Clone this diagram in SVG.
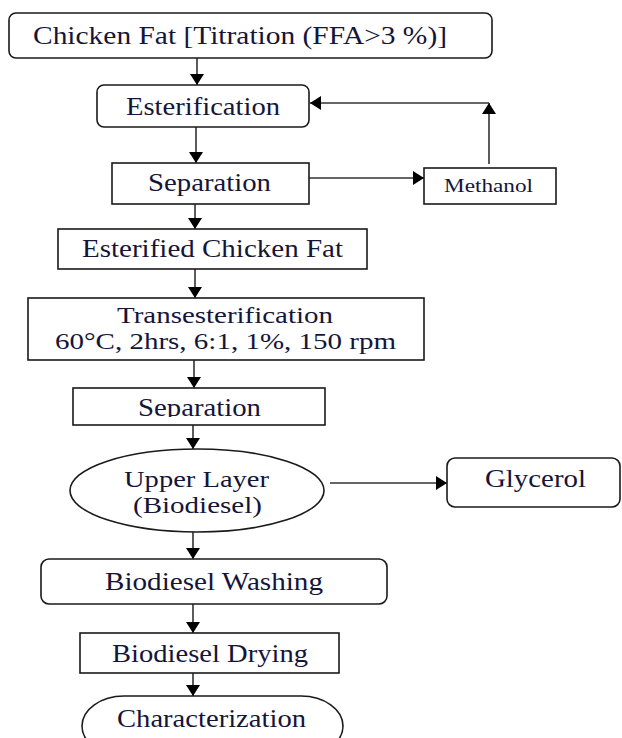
<svg xmlns="http://www.w3.org/2000/svg" width="622" height="738" viewBox="0 0 622 738">
<style>
.n{fill:#fff;stroke:#1a1a1a;stroke-width:1.6}
.t{font-family:"Liberation Serif","Times New Roman",serif;font-size:25px;fill:#15153a;text-anchor:middle}
.s{font-size:19.5px}
.d{font-size:22.5px}
.c{fill:none;stroke:#333;stroke-width:1.6}
</style>
<defs>
<marker id="ah" viewBox="0 0 11 14" refX="11" refY="7" markerWidth="11" markerHeight="14" markerUnits="userSpaceOnUse" orient="auto">
<path d="M0,0 L11,7 L0,14 z" fill="#000"/>
</marker>
<clipPath id="cut"><rect x="70" y="388" width="260" height="29"/></clipPath>
</defs>
<rect width="622" height="738" fill="#fff"/>
<g id="connectors">
<line class="c" x1="197" y1="58" x2="197" y2="85" marker-end="url(#ah)"/>
<line class="c" x1="489" y1="164" x2="489" y2="103" marker-end="url(#ah)"/>
<line class="c" x1="489" y1="103" x2="310" y2="103" marker-end="url(#ah)"/>
<line class="c" x1="196" y1="127" x2="196" y2="163" marker-end="url(#ah)"/>
<line class="c" x1="309" y1="178" x2="424" y2="178" marker-end="url(#ah)"/>
<line class="c" x1="195" y1="204" x2="195" y2="229" marker-end="url(#ah)"/>
<line class="c" x1="195" y1="269" x2="195" y2="298" marker-end="url(#ah)"/>
<line class="c" x1="194" y1="360" x2="194" y2="388" marker-end="url(#ah)"/>
<line class="c" x1="193" y1="425" x2="193" y2="449" marker-end="url(#ah)"/>
<line class="c" x1="330" y1="483" x2="447" y2="483" marker-end="url(#ah)"/>
<line class="c" x1="193" y1="532" x2="193" y2="559" marker-end="url(#ah)"/>
<line class="c" x1="193" y1="604" x2="193" y2="633" marker-end="url(#ah)"/>
<line class="c" x1="193" y1="673" x2="193" y2="696" marker-end="url(#ah)"/>
</g>
<g id="chicken-fat">
<rect class="n" x="9" y="13" width="483" height="45" rx="7"/>
<text class="t" x="240" y="44" textLength="414" lengthAdjust="spacingAndGlyphs">Chicken Fat [Titration (FFA&gt;3 %)]</text>
</g>
<g id="esterification">
<rect class="n" x="97" y="85" width="212" height="42" rx="7"/>
<text class="t" x="203" y="115" textLength="154" lengthAdjust="spacingAndGlyphs">Esterification</text>
</g>
<g id="separation1">
<rect class="n" x="112" y="163" width="197" height="41"/>
<text class="t" x="209.5" y="191" textLength="123" lengthAdjust="spacingAndGlyphs">Separation</text>
</g>
<g id="methanol">
<rect class="n" x="424" y="168" width="132" height="36"/>
<text class="t s" x="488.5" y="192" textLength="89" lengthAdjust="spacingAndGlyphs">Methanol</text>
</g>
<g id="esterified-fat">
<rect class="n" x="58" y="229" width="309" height="40"/>
<text class="t" x="212.5" y="257" textLength="261" lengthAdjust="spacingAndGlyphs">Esterified Chicken Fat</text>
</g>
<g id="transesterification">
<rect class="n" x="28" y="298" width="396" height="62"/>
<text class="t d" x="225" y="323" textLength="216" lengthAdjust="spacingAndGlyphs">Transesterification</text>
<text class="t d" x="225.5" y="348.5" textLength="341" lengthAdjust="spacingAndGlyphs">60°C, 2hrs, 6:1, 1%, 150 rpm</text>
</g>
<g id="separation2">
<rect class="n" x="73" y="388" width="252" height="37"/>
<text class="t" x="199.5" y="416" textLength="123" lengthAdjust="spacingAndGlyphs" clip-path="url(#cut)">Separation</text>
</g>
<g id="upper-layer">
<ellipse class="n" cx="197" cy="490.5" rx="127" ry="41.5"/>
<text class="t d" x="196.5" y="487" textLength="145" lengthAdjust="spacingAndGlyphs">Upper Layer</text>
<text class="t d" x="197.5" y="512.5" textLength="129" lengthAdjust="spacingAndGlyphs">(Biodiesel)</text>
</g>
<g id="glycerol">
<rect class="n" x="447" y="458" width="173" height="49" rx="8"/>
<text class="t" x="535.5" y="487" textLength="101" lengthAdjust="spacingAndGlyphs">Glycerol</text>
</g>
<g id="washing">
<rect class="n" x="41" y="559" width="346" height="45" rx="8"/>
<text class="t" x="214" y="590" textLength="218" lengthAdjust="spacingAndGlyphs">Biodiesel Washing</text>
</g>
<g id="drying">
<rect class="n" x="80" y="633" width="259" height="40"/>
<text class="t" x="210" y="662" textLength="196" lengthAdjust="spacingAndGlyphs">Biodiesel Drying</text>
</g>
<g id="characterization">
<rect class="n" x="82" y="696" width="261" height="60" rx="42" ry="30"/>
<text class="t" x="211.5" y="727" textLength="189" lengthAdjust="spacingAndGlyphs">Characterization</text>
</g>
</svg>
